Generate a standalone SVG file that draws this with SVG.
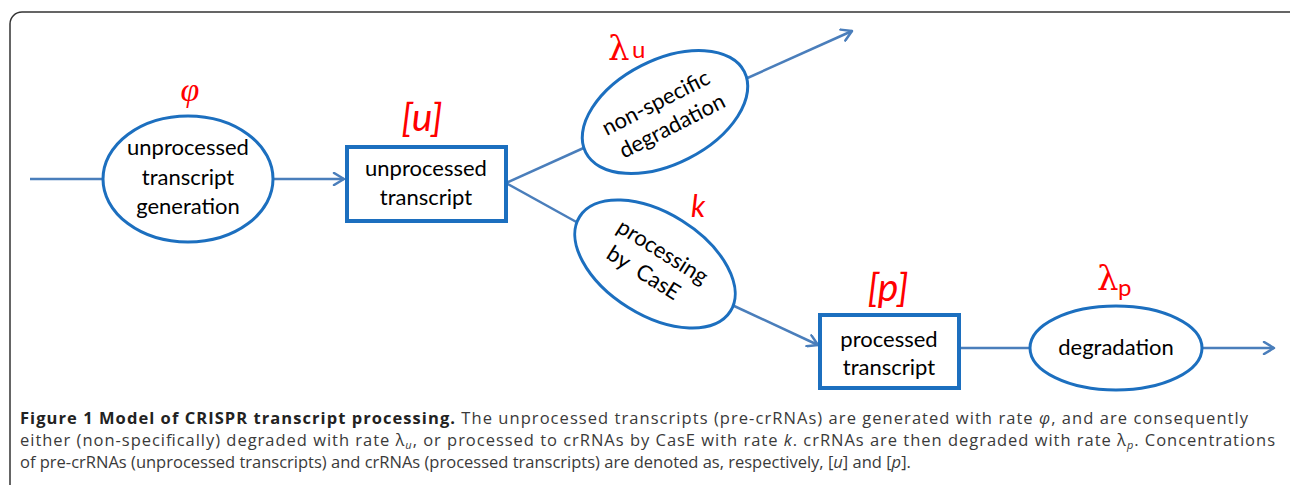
<svg xmlns="http://www.w3.org/2000/svg" width="1290" height="485" viewBox="0 0 1290 485">
<defs>
<marker id="arr" viewBox="0 0 14 14" refX="12" refY="7" markerWidth="14" markerHeight="14" markerUnits="userSpaceOnUse" orient="auto">
<polyline points="2,1 12,7 2,13" fill="none" stroke="#4a7ebb" stroke-width="2.5" stroke-linecap="round" stroke-linejoin="round"/>
</marker>
</defs>
<style>
.ell{fill:#fff;stroke:#1c6fbf;stroke-width:3}
.box{fill:#fff;stroke:#1c6fbf;stroke-width:4}
.con{fill:none;stroke:#4a7ebb;stroke-width:2.5}
.t{font-family:Lato,"Liberation Sans",sans-serif;font-size:22px;fill:#000;text-anchor:middle}
.red{font-family:Lato,"Liberation Sans",sans-serif;fill:#ff0000;font-style:italic;text-anchor:middle}
.phi{font-family:"Liberation Serif",serif;fill:#ff0000;font-style:italic;text-anchor:middle}
.lam{font-family:"DejaVu Serif",serif;fill:#ff0000;font-size:34px}
.sub{font-family:Lato,"Liberation Sans",sans-serif;fill:#ff0000;font-size:24px}
.cap{font-family:"Open Sans","Liberation Sans",sans-serif;font-size:16.5px;fill:#3a3a3a}
</style>
<rect x="10" y="12" width="1300" height="500" rx="12" fill="#fff" stroke="#333" stroke-width="1.5"/>
<g id="connectors">
<line class="con" x1="30" y1="179" x2="103" y2="179"/>
<line class="con" x1="273" y1="179" x2="344" y2="179" marker-end="url(#arr)"/>
<line class="con" x1="506" y1="183" x2="588" y2="146"/>
<line class="con" x1="506" y1="183" x2="580" y2="224"/>
<line class="con" x1="743" y1="80" x2="852" y2="31" marker-end="url(#arr)"/>
<line class="con" x1="732" y1="305" x2="818" y2="345" marker-end="url(#arr)"/>
<line class="con" x1="959" y1="348" x2="1030" y2="348"/>
<line class="con" x1="1202" y1="348" x2="1274" y2="348" marker-end="url(#arr)"/>
</g>
<g id="gen">
<ellipse class="ell" cx="188" cy="179" rx="85" ry="63"/>
<text class="t" x="188" y="155">unprocessed</text>
<text class="t" x="188" y="185">transcript</text>
<text class="t" x="188" y="214">generation</text>
<text class="phi" x="190" y="101" font-size="34">φ</text>
</g>
<g id="u">
<rect class="box" x="347" y="147" width="159" height="74"/>
<text class="t" x="426" y="176">unprocessed</text>
<text class="t" x="426" y="205">transcript</text>
<text class="red" x="422" y="131" font-size="39">[u]</text>
</g>
<g id="nonspec">
<ellipse class="ell" cx="665" cy="112" rx="89" ry="52" transform="rotate(-27 665 112)"/>
<g transform="rotate(-27 665 112)">
<text class="t" x="661" y="107" font-size="21">non-specific</text>
<text class="t" x="665" y="135" font-size="21">degradation</text>
</g>
<text class="lam" x="608" y="60">λ</text>
<text class="sub" x="632" y="58">u</text>
</g>
<g id="proc">
<ellipse class="ell" cx="655" cy="264" rx="89" ry="51" transform="rotate(32 655 264)"/>
<g transform="rotate(32 655 264)">
<text class="t" x="655" y="257">processing</text>
<text class="t" x="650" y="285" xml:space="preserve">by  CasE</text>
</g>
<text class="red" x="698" y="217" font-size="30">k</text>
</g>
<g id="p">
<rect class="box" x="820" y="315" width="139" height="73"/>
<text class="t" x="889" y="347">processed</text>
<text class="t" x="889" y="375">transcript</text>
<text class="red" x="888" y="301" font-size="39">[p]</text>
</g>
<g id="deg">
<ellipse class="ell" cx="1116" cy="348" rx="86" ry="42"/>
<text class="t" x="1116" y="355">degradation</text>
<text class="lam" x="1097" y="290">λ</text>
<text class="sub" x="1118" y="296">p</text>
</g>
<g id="caption">
<text class="cap" x="20" y="424" textLength="1228" lengthAdjust="spacing"><tspan font-weight="bold" fill="#222">Figure 1 Model of CRISPR transcript processing.</tspan> The unprocessed transcripts (pre-crRNAs) are generated with rate <tspan font-style="italic">φ</tspan>, and are consequently</text>
<text class="cap" x="20" y="446" textLength="1255" lengthAdjust="spacing">either (non-specifically) degraded with rate λ<tspan font-style="italic" font-size="11" dy="3">u</tspan><tspan dy="-3">, or processed to crRNAs by CasE with rate </tspan><tspan font-style="italic">k</tspan>. crRNAs are then degraded with rate λ<tspan font-style="italic" font-size="11" dy="3">p</tspan><tspan dy="-3">. Concentrations</tspan></text>
<text class="cap" x="20" y="468">of pre-crRNAs (unprocessed transcripts) and crRNAs (processed transcripts) are denoted as, respectively, [<tspan font-style="italic">u</tspan>] and [<tspan font-style="italic">p</tspan>].</text>
</g>
</svg>
